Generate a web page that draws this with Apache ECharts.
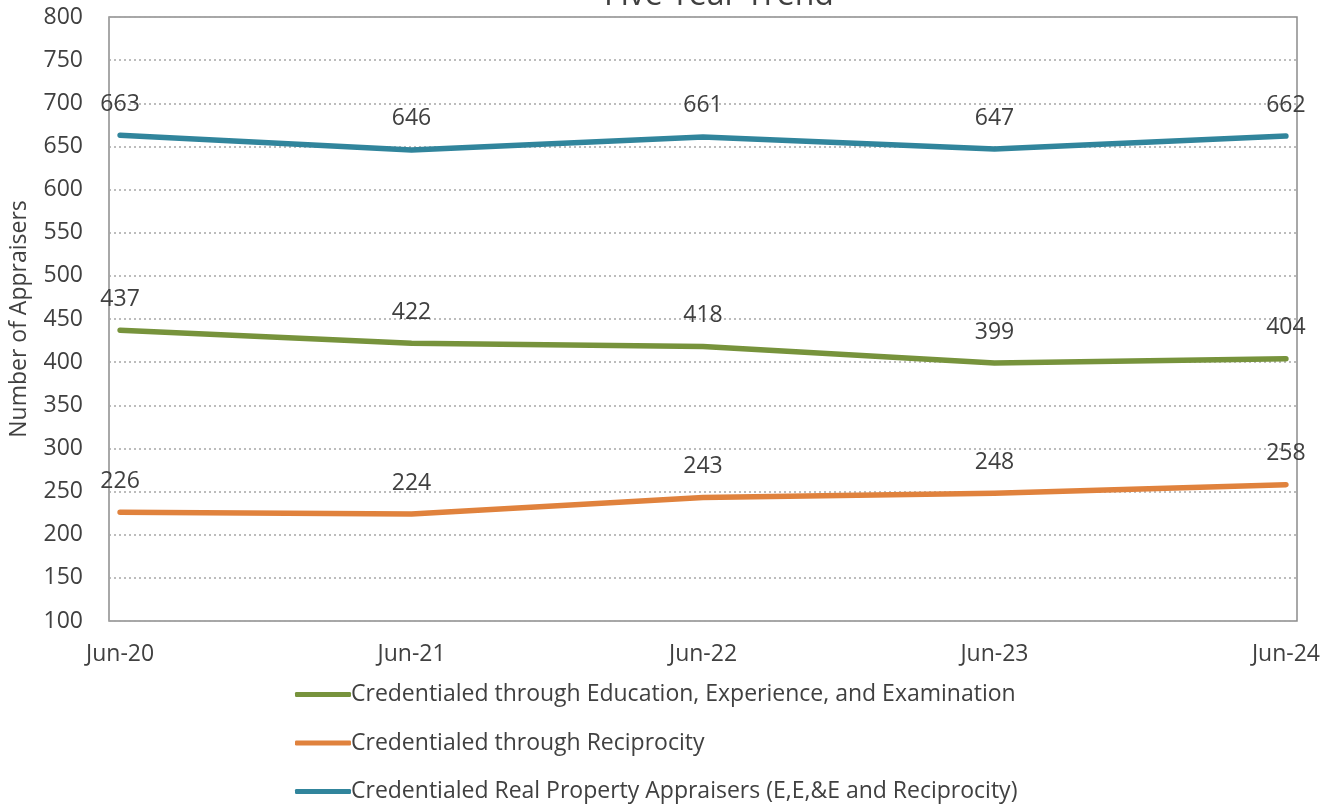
<!DOCTYPE html>
<html><head><meta charset="utf-8">
<script src="https://cdn.jsdelivr.net/npm/echarts@6/dist/echarts.min.js"></script>
<style>html,body{margin:0;padding:0;background:#fff}#c{width:1336px;height:806px}</style>
</head><body><div id="c"></div>
<script>
const categories = ['Jun-20','Jun-21','Jun-22','Jun-23','Jun-24'];
const eeeValues = [437, 422, 418, 399, 404];
const reciprocityValues = [226, 224, 243, 248, 258];
const totalValues = [663, 646, 661, 647, 662];
const seriesNames = [
  'Credentialed through Education, Experience, and Examination',
  'Credentialed through Reciprocity',
  'Credentialed Real Property Appraisers (E,E,&E and Reciprocity)'
];
const yTicks = [100,150,200,250,300,350,400,450,500,550,600,650,700,750,800];

const font = 'Open Sans';
const txt = '#404040';
const toPts = arr => arr.map((v,i)=>[i,v]);
function mk(name, data, color){
  return {
    name, type:'line', data: toPts(data), symbol:'circle', symbolSize:1, showSymbol:true,
    lineStyle:{color, width:5.5, cap:'round', join:'round'}, itemStyle:{color},
    label:{show:true, position:'top', distance:19, fontFamily:font, fontSize:23, color:txt,
      formatter:p=>p.value[1]},
    labelLayout:{hideOverlap:false},
    z:3
  };
}
const chart = echarts.init(document.getElementById('c'));
chart.setOption({
  animation:false,
  title:{text:'Five Year Trend', left:714, textAlign:'center', top:-25,
    textStyle:{fontFamily:font, fontSize:32, fontWeight:'normal', color:txt}},
  grid:{left:109, right:39, top:17, bottom:185, show:true, borderColor:'#8c8c8c', borderWidth:1.5, containLabel:false},
  xAxis:{type:'value', min:-0.038, max:4.038,
    axisLine:{show:false}, axisTick:{show:false}, splitLine:{show:false},
    axisLabel:{customValues:[0,1,2,3,4], formatter:v=>categories[Math.round(v)] || '', fontFamily:font, fontSize:23, color:txt, margin:22}},
  yAxis:{type:'value', min:yTicks[0], max:yTicks[yTicks.length-1], interval:50,
    name:'Number of Appraisers', nameLocation:'middle', nameGap:78, nameRotate:90,
    nameTextStyle:{fontFamily:font, fontSize:23, color:txt},
    axisLine:{show:false}, axisTick:{show:false},
    axisLabel:{fontFamily:font, fontSize:23, color:txt, margin:26},
    splitLine:{lineStyle:{color:'#a6a6a6', type:[2,3], width:1.5}}},
  legend:{orient:'vertical', left:290, top:678, height:200, itemGap:25.5, itemWidth:56, itemHeight:5,
    icon:'roundRect',
    textStyle:{fontFamily:font, fontSize:23, color:txt, padding:[0,0,0,-5]},
    data:seriesNames},
  series:[
    mk(seriesNames[0], eeeValues, '#77933C'),
    mk(seriesNames[1], reciprocityValues, '#E0823D'),
    mk(seriesNames[2], totalValues, '#31859C')
  ]
});
</script></body></html>
